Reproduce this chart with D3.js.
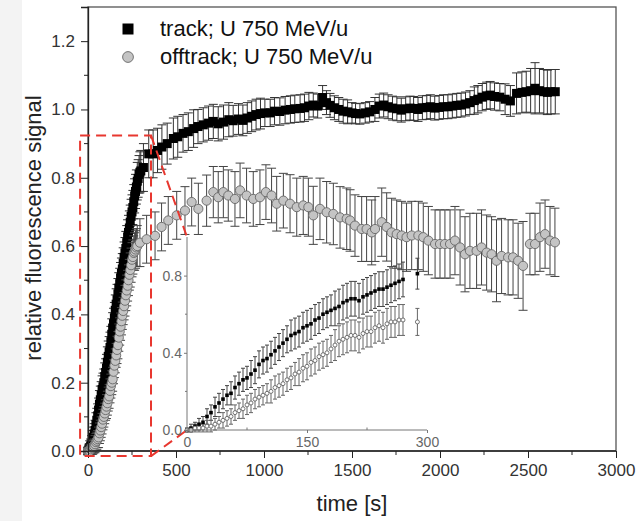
<!DOCTYPE html>
<html>
<head>
<meta charset="utf-8">
<script src="https://cdn.jsdelivr.net/npm/d3@7"></script>
<style>
  body { margin: 0; background: #fff; }
  svg { display: block; font-family: Arial, "Liberation Sans", sans-serif; }
</style>
</head>
<body>
<svg id="chart" width="644" height="521"></svg>
<script>
// main plot: [time s, signal, error]
const trackMain = [
  [0,0.00,0.01],[5,0.005,0.015],[10,0.01,0.02],[15,0.015,0.02],[20,0.02,0.025],[25,0.03,0.03],[30,0.04,0.03],
  [35,0.05,0.03],[40,0.06,0.03],[45,0.077,0.035],[50,0.09,0.035],[55,0.103,0.035],[60,0.12,0.035],[65,0.137,0.04],
  [70,0.15,0.04],[75,0.163,0.04],[80,0.18,0.04],[85,0.188,0.04],[90,0.20,0.04],[95,0.218,0.04],[100,0.23,0.04],
  [105,0.243,0.04],[110,0.26,0.045],[115,0.277,0.045],[120,0.29,0.045],[125,0.303,0.045],[130,0.32,0.045],
  [135,0.342,0.045],[140,0.36,0.045],[145,0.373,0.045],[150,0.39,0.045],[155,0.412,0.045],[160,0.43,0.045],
  [165,0.443,0.045],[170,0.46,0.045],[175,0.477,0.045],[180,0.49,0.045],[185,0.507,0.045],[190,0.52,0.045],
  [195,0.533,0.045],[200,0.55,0.045],[205,0.567,0.045],[210,0.58,0.045],[215,0.593,0.05],[220,0.61,0.05],
  [225,0.627,0.05],[230,0.64,0.05],[235,0.653,0.05],[240,0.67,0.05],[245,0.687,0.05],[250,0.70,0.05],
  [255,0.713,0.05],[260,0.73,0.05],[265,0.747,0.05],[270,0.76,0.05],[275,0.773,0.05],[280,0.79,0.055],
  [285,0.798,0.055],[290,0.81,0.055],[295,0.816,0.06],[300,0.82,0.06],
  [315,0.83,0.07],[345,0.87,0.07],[370,0.87,0.07],[395,0.88,0.065],[420,0.89,0.065],
  [450,0.90,0.06],[485,0.915,0.06],[510,0.92,0.06],[540,0.93,0.055],[570,0.935,0.055],[600,0.944,0.055],
  [625,0.95,0.05],[655,0.955,0.05],[685,0.96,0.05],[712,0.965,0.05],[740,0.958,0.05],[770,0.963,0.05],
  [800,0.97,0.05],[825,0.967,0.045],[855,0.972,0.045],[880,0.968,0.045],[905,0.975,0.045],[930,0.98,0.045],
  [955,0.985,0.045],[980,0.988,0.045],[1005,0.99,0.04],[1035,0.99,0.04],[1060,0.995,0.04],[1090,0.994,0.04],
  [1120,0.998,0.04],[1150,1.0,0.04],[1175,1.002,0.04],[1205,1.003,0.04],[1230,1.005,0.04],[1255,1.01,0.04],
  [1280,1.013,0.035],[1305,1.01,0.035],[1333,1.035,0.035],[1355,1.02,0.035],[1375,1.012,0.035],[1400,1.005,0.035],
  [1425,1.0,0.035],[1450,0.995,0.035],[1475,0.993,0.035],[1500,0.99,0.03],[1520,0.988,0.03],[1545,0.987,0.03],
  [1575,0.99,0.03],[1600,0.993,0.03],[1630,1.0,0.035],[1655,1.01,0.035],[1680,1.013,0.035],[1705,1.008,0.035],
  [1730,1.004,0.035],[1755,1.002,0.035],[1780,0.998,0.035],[1805,1.002,0.035],[1830,1.004,0.035],[1850,1.003,0.035],
  [1875,1.0,0.035],[1900,1.005,0.035],[1925,1.006,0.035],[1945,1.008,0.035],[1970,1.004,0.035],[1995,1.006,0.035],
  [2020,1.008,0.035],[2045,1.008,0.035],[2070,1.01,0.035],[2095,1.012,0.035],[2120,1.013,0.035],[2145,1.016,0.035],
  [2170,1.02,0.035],[2195,1.026,0.04],[2215,1.03,0.04],[2240,1.036,0.04],[2265,1.04,0.04],[2285,1.042,0.04],
  [2310,1.038,0.04],[2340,1.036,0.04],[2370,1.03,0.045],[2400,1.025,0.045],[2435,1.047,0.06],[2465,1.05,0.06],
  [2490,1.052,0.06],[2515,1.055,0.065],[2540,1.062,0.075],[2565,1.055,0.065],[2590,1.052,0.065],[2610,1.05,0.065],
  [2630,1.052,0.065],[2655,1.052,0.065]
];

const offMain = [
  [0,0.00,0.01],[5,0.00,0.01],[10,0.00,0.015],[15,0.005,0.015],[20,0.01,0.02],[25,0.01,0.02],[30,0.012,0.02],
  [35,0.015,0.02],[40,0.02,0.025],[45,0.026,0.025],[50,0.03,0.025],[55,0.035,0.025],[60,0.04,0.03],[65,0.052,0.03],
  [70,0.06,0.03],[75,0.07,0.03],[80,0.08,0.03],[85,0.092,0.03],[90,0.10,0.03],[95,0.11,0.03],[100,0.12,0.03],
  [105,0.13,0.035],[110,0.14,0.035],[115,0.152,0.035],[120,0.16,0.035],[125,0.176,0.035],[130,0.19,0.035],
  [135,0.20,0.035],[140,0.21,0.035],[145,0.232,0.035],[150,0.25,0.035],[155,0.264,0.035],[160,0.28,0.035],
  [165,0.296,0.04],[170,0.31,0.04],[175,0.332,0.04],[180,0.35,0.04],[185,0.364,0.04],[190,0.38,0.04],
  [195,0.396,0.04],[200,0.41,0.04],[205,0.424,0.04],[210,0.44,0.045],[215,0.456,0.045],[220,0.47,0.045],
  [225,0.484,0.045],[230,0.50,0.045],[235,0.516,0.045],[240,0.53,0.05],[245,0.544,0.05],[250,0.56,0.05],
  [255,0.568,0.05],[260,0.58,0.05],[265,0.584,0.055],[270,0.59,0.055],[275,0.596,0.055],[280,0.60,0.06],
  [295,0.61,0.07],[333,0.62,0.07],[381,0.63,0.07],[418,0.656,0.07],[456,0.675,0.07],[504,0.69,0.07],
  [551,0.704,0.07],[589,0.729,0.07],[627,0.709,0.075],[674,0.733,0.075],[712,0.758,0.075],[740,0.743,0.075],
  [769,0.758,0.075],[797,0.748,0.075],[835,0.738,0.08],[864,0.763,0.08],[901,0.748,0.08],[939,0.738,0.08],
  [977,0.743,0.08],[1011,0.758,0.08],[1043,0.748,0.08],[1072,0.724,0.08],[1110,0.733,0.08],[1148,0.724,0.085],
  [1186,0.714,0.085],[1223,0.719,0.085],[1252,0.714,0.085],[1280,0.69,0.085],[1318,0.709,0.09],[1356,0.699,0.09],
  [1394,0.694,0.09],[1432,0.684,0.09],[1470,0.68,0.09],[1489,0.675,0.09],[1517,0.66,0.09],[1555,0.65,0.095],
  [1583,0.65,0.095],[1612,0.64,0.095],[1631,0.65,0.095],[1669,0.67,0.1],[1697,0.656,0.1],[1725,0.64,0.1],
  [1754,0.635,0.1],[1782,0.631,0.1],[1810,0.626,0.1],[1839,0.631,0.1],[1877,0.631,0.1],[1905,0.626,0.1],
  [1934,0.616,0.1],[1972,0.606,0.1],[2000,0.606,0.1],[2028,0.606,0.1],[2057,0.606,0.1],[2085,0.616,0.1],
  [2114,0.596,0.11],[2142,0.576,0.11],[2170,0.586,0.11],[2208,0.586,0.11],[2236,0.596,0.11],[2265,0.581,0.11],
  [2293,0.576,0.11],[2321,0.557,0.12],[2350,0.571,0.11],[2387,0.567,0.11],[2415,0.567,0.11],[2444,0.557,0.11],
  [2472,0.542,0.13],[2511,0.606,0.09],[2540,0.606,0.09],[2568,0.626,0.1],[2597,0.635,0.1],[2625,0.616,0.1],
  [2653,0.611,0.1]
];

// inset (first 300 s)
const insetTrack = [
  [0,0.00,0.01],[5,0.01,0.02],[10,0.02,0.02],[15,0.03,0.03],[20,0.04,0.03],[25,0.07,0.04],[30,0.09,0.04],
  [35,0.12,0.05],[40,0.14,0.05],[45,0.16,0.05],[50,0.18,0.05],[55,0.19,0.06],[60,0.22,0.06],[65,0.24,0.06],
  [70,0.26,0.06],[75,0.27,0.06],[80,0.29,0.07],[85,0.31,0.07],[90,0.34,0.07],[95,0.36,0.07],[100,0.37,0.07],
  [105,0.39,0.07],[110,0.41,0.07],[115,0.43,0.07],[120,0.45,0.07],[125,0.47,0.07],[130,0.49,0.08],[135,0.50,0.08],
  [140,0.51,0.08],[145,0.53,0.08],[150,0.54,0.08],[155,0.55,0.08],[160,0.57,0.08],[165,0.58,0.08],[170,0.60,0.08],
  [175,0.61,0.08],[180,0.62,0.08],[185,0.63,0.09],[190,0.64,0.09],[195,0.66,0.09],[200,0.67,0.09],[205,0.68,0.09],
  [210,0.68,0.09],[215,0.67,0.09],[220,0.69,0.09],[225,0.70,0.09],[230,0.71,0.09],[235,0.72,0.09],[240,0.73,0.09],
  [245,0.73,0.09],[250,0.74,0.09],[255,0.75,0.09],[260,0.76,0.09],[265,0.77,0.09],[270,0.78,0.09],[288,0.81,0.08]
];

const insetOff = [
  [0,0.00,0.01],[5,0.00,0.01],[10,0.01,0.02],[15,0.01,0.02],[20,0.01,0.02],[25,0.02,0.03],[30,0.02,0.03],
  [35,0.03,0.03],[40,0.04,0.03],[45,0.05,0.04],[50,0.06,0.04],[55,0.07,0.04],[60,0.09,0.04],[65,0.10,0.04],
  [70,0.11,0.05],[75,0.13,0.05],[80,0.14,0.05],[85,0.16,0.05],[90,0.17,0.05],[95,0.18,0.05],[100,0.19,0.05],
  [105,0.20,0.06],[110,0.22,0.06],[115,0.23,0.06],[120,0.24,0.06],[125,0.26,0.06],[130,0.27,0.06],[135,0.29,0.06],
  [140,0.30,0.07],[145,0.32,0.07],[150,0.33,0.07],[155,0.35,0.07],[160,0.36,0.07],[165,0.38,0.07],[170,0.39,0.07],
  [175,0.40,0.07],[180,0.42,0.07],[185,0.44,0.08],[190,0.46,0.08],[195,0.47,0.08],[200,0.48,0.08],[205,0.49,0.08],
  [210,0.49,0.08],[215,0.48,0.08],[220,0.50,0.08],[225,0.51,0.08],[230,0.51,0.08],[235,0.53,0.08],[240,0.54,0.08],
  [245,0.53,0.08],[250,0.55,0.08],[255,0.56,0.08],[260,0.56,0.08],[265,0.57,0.08],[270,0.57,0.08],[288,0.56,0.07]
];

const xTicks = [0, 500, 1000, 1500, 2000, 2500, 3000];
const yTicks = [0, 0.2, 0.4, 0.6, 0.8, 1.0, 1.2];
const insetXTicks = [0, 150, 300];
const insetYTicks = [0, 0.4, 0.8];
const legendLabels = ['track; U 750 MeV/u', 'offtrack; U 750 MeV/u'];
// zoom box around the first part of the main plot: [t0, t1], [v0, v1]
const zoomBoxT = [-45, 358];
const zoomBoxV = [-0.015, 0.924];

const svg = d3.select('#chart');

svg.append('rect').attr('x', 0).attr('y', 0).attr('width', 22).attr('height', 521).attr('fill', '#f3f3f3');

let x = d3.scaleLinear().domain([0, 3000]).range([88, 616]);
let y = d3.scaleLinear().domain([0, 1.3]).range([451, 7]);

// frame
svg.append('rect')
  .attr('x', x(0)).attr('y', y(1.3))
  .attr('width', x(3000) - x(0)).attr('height', y(0) - y(1.3))
  .attr('fill', 'none').attr('stroke', '#555').attr('stroke-width', 1.3);

function errorBars(g, data, xs, ys, cap, color) {
  let eb = g.append('g').attr('stroke', color).attr('stroke-width', 1).attr('fill', 'none');
  eb.selectAll('path')
    .data(data)
    .enter().append('path')
    .attr('d', (d) => {
      let cx = xs(d[0]), y1 = ys(d[1] + d[2]), y0 = ys(d[1] - d[2]);
      return `M${cx},${y0}V${y1}M${cx - cap},${y1}H${cx + cap}M${cx - cap},${y0}H${cx + cap}`;
    });
}

// main data
let main = svg.append('g');
errorBars(main, trackMain, x, y, 4.5, '#333');
main.append('g').selectAll('rect')
  .data(trackMain)
  .enter().append('rect')
  .attr('x', (d) => x(d[0]) - 4.5)
  .attr('y', (d) => y(d[1]) - 4.5)
  .attr('width', 9).attr('height', 9)
  .attr('fill', '#000');

errorBars(main, offMain, x, y, 4.5, '#444');
main.append('g').selectAll('circle')
  .data(offMain)
  .enter().append('circle')
  .attr('cx', (d) => x(d[0]))
  .attr('cy', (d) => y(d[1]))
  .attr('r', 4.6)
  .attr('fill', '#c4c4c4')
  .attr('stroke', '#666')
  .attr('stroke-width', 0.9);

// axes
let xAxis = svg.append('g')
  .attr('transform', `translate(0,${y(0)})`)
  .call(d3.axisBottom(x).tickValues(xTicks).tickSize(7).tickPadding(6).tickFormat(d3.format('d')));
xAxis.append('g').selectAll('line')
  .data([250, 750, 1250, 1750, 2250, 2750])
  .enter().append('line')
  .attr('x1', (d) => x(d)).attr('x2', (d) => x(d))
  .attr('y1', 0).attr('y2', 4)
  .attr('stroke', '#222');

let yAxis = svg.append('g')
  .attr('transform', `translate(${x(0)},0)`)
  .call(d3.axisLeft(y).tickValues(yTicks).tickSize(7).tickPadding(6).tickFormat(d3.format('.1f')));
yAxis.append('g').selectAll('line')
  .data([0.1, 0.3, 0.5, 0.7, 0.9, 1.1])
  .enter().append('line')
  .attr('y1', (d) => y(d)).attr('y2', (d) => y(d))
  .attr('x1', 0).attr('x2', -4)
  .attr('stroke', '#222');

[xAxis, yAxis].forEach((a) => {
  a.select('.domain').attr('stroke', '#222').attr('stroke-width', 1.3);
  a.selectAll('.tick line').attr('stroke', '#222');
  a.selectAll('.tick text').attr('fill', '#333').style('font-size', '17px');
});
xAxis.selectAll('.domain').attr('d', `M${x(0)},0H${x(3000)}`);

// axis titles
svg.append('text')
  .text('time [s]')
  .attr('x', 352).attr('y', 511)
  .attr('text-anchor', 'middle')
  .style('font-size', '22px')
  .attr('fill', '#222');

svg.append('text')
  .text('relative fluorescence signal')
  .attr('transform', 'translate(41,228)rotate(-90)')
  .attr('text-anchor', 'middle')
  .style('font-size', '22px')
  .attr('fill', '#222');

// legend
let legend = svg.append('g');
legend.append('rect').attr('x', 122.5).attr('y', 23.5).attr('width', 11).attr('height', 11).attr('fill', '#000');
legend.append('circle').attr('cx', 128).attr('cy', 57).attr('r', 5.4)
  .attr('fill', '#c4c4c4').attr('stroke', '#666').attr('stroke-width', 0.9);
legend.selectAll('text')
  .data(legendLabels)
  .enter().append('text')
  .text((d) => d)
  .attr('x', 160)
  .attr('y', (d, i) => 36 + i * 28)
  .style('font-size', '22px')
  .attr('fill', '#111');

// inset
let ix = d3.scaleLinear().domain([0, 300]).range([187, 427]);
let iy = d3.scaleLinear().domain([0, 1.0]).range([430, 237]);

// zoom box + connectors
let red = svg.append('g')
  .attr('stroke', '#e8372f').attr('stroke-width', 2).attr('fill', 'none')
  .attr('stroke-dasharray', '10,6');
red.append('rect')
  .attr('x', x(zoomBoxT[0])).attr('y', y(zoomBoxV[1]))
  .attr('width', x(zoomBoxT[1]) - x(zoomBoxT[0]))
  .attr('height', y(zoomBoxV[0]) - y(zoomBoxV[1]));
red.append('line')
  .attr('x1', x(zoomBoxT[1])).attr('y1', y(zoomBoxV[1]))
  .attr('x2', ix(0)).attr('y2', iy(1.0));
red.append('line')
  .attr('x1', x(zoomBoxT[1])).attr('y1', y(zoomBoxV[0]))
  .attr('x2', ix(0)).attr('y2', iy(0));

let inset = svg.append('g');
errorBars(inset, insetTrack, ix, iy, 2, '#444');
errorBars(inset, insetOff, ix, iy, 2, '#666');
inset.append('g').selectAll('rect')
  .data(insetTrack)
  .enter().append('rect')
  .attr('x', (d) => ix(d[0]) - 1.8)
  .attr('y', (d) => iy(d[1]) - 1.8)
  .attr('width', 3.6).attr('height', 3.6)
  .attr('fill', '#000');
inset.append('g').selectAll('circle')
  .data(insetOff)
  .enter().append('circle')
  .attr('cx', (d) => ix(d[0]))
  .attr('cy', (d) => iy(d[1]))
  .attr('r', 2)
  .attr('fill', '#fff')
  .attr('stroke', '#555')
  .attr('stroke-width', 0.8);

let ixAxis = inset.append('g')
  .attr('transform', `translate(0,${iy(0)})`)
  .call(d3.axisBottom(ix).tickValues(insetXTicks).tickSize(3).tickPadding(4).tickFormat(d3.format('d')));
let iyAxis = inset.append('g')
  .attr('transform', `translate(${ix(0)},0)`)
  .call(d3.axisLeft(iy).tickValues(insetYTicks).tickSize(3).tickPadding(2).tickFormat(d3.format('.1f')));
ixAxis.selectAll('.domain').attr('d', `M${ix(0)},0H${ix(300)}`);
iyAxis.selectAll('.domain').attr('d', `M0,${iy(0)}V${iy(1.0)}`);
ixAxis.append('g').selectAll('line')
  .data([75, 225])
  .enter().append('line')
  .attr('x1', (d) => ix(d)).attr('x2', (d) => ix(d))
  .attr('y1', 0).attr('y2', -2.5).attr('stroke', '#777');
iyAxis.append('g').selectAll('line')
  .data([0.2, 0.6])
  .enter().append('line')
  .attr('y1', (d) => iy(d)).attr('y2', (d) => iy(d))
  .attr('x1', 0).attr('x2', -2).attr('stroke', '#777');
[ixAxis, iyAxis].forEach((a) => {
  a.select('.domain').attr('stroke', '#777').attr('stroke-width', 1);
  a.selectAll('.tick line').attr('stroke', '#777');
  a.selectAll('.tick text').attr('fill', '#666').style('font-size', '14px');
});
</script>
</body>
</html>
